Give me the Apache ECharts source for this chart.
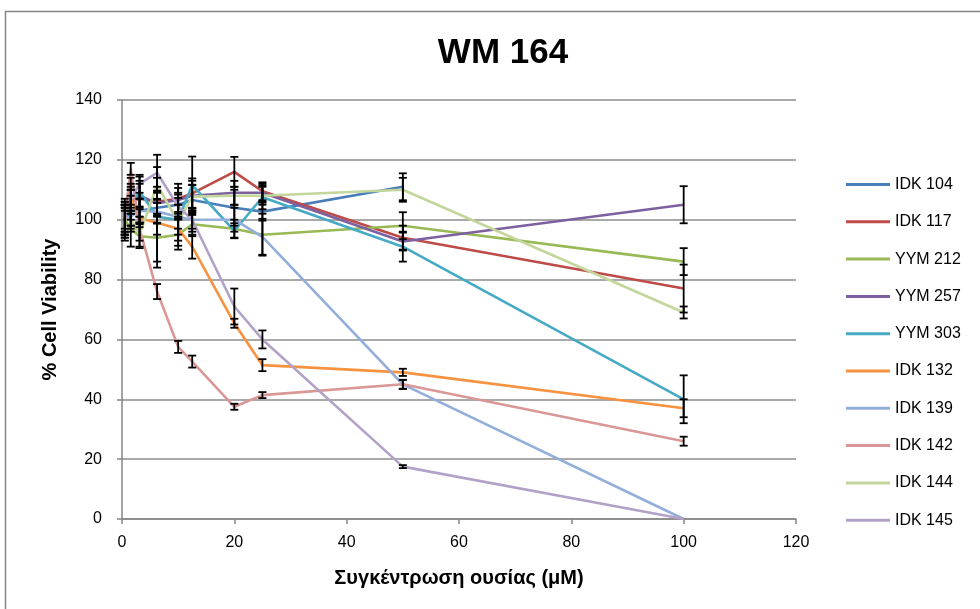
<!DOCTYPE html>
<html><head><meta charset="utf-8">
<script src="https://cdn.jsdelivr.net/npm/echarts@6/dist/echarts.min.js"></script>
<style>html,body{margin:0;padding:0;background:#fff}#c{width:980px;height:609px}</style>
</head><body><div id="c"></div>
<script>
const concentrations = [0.5, 1.56, 3.125, 6.25, 10, 12.5, 20, 25, 50, 100];
const seriesNames = ['IDK 104','IDK 117','YYM 212','YYM 257','YYM 303','IDK 132','IDK 139','IDK 142','IDK 144','IDK 145'];
const idk104 = [100, 103, 103, 104, 105, 106.6, 104, 102.7, 111, null];
const idk117 = [100, 106, 107, 106, 107, 108.8, 116, 109.5, 94, 77];
const yym212 = [100, 97, 94.5, 94, 95, 98.5, 97, 95, 98, 86];
const yym257 = [100, 106, 108, 105.5, 106.6, 108, 109, 109, 92.7, 105];
const yym303 = [100, 105, 109.4, 101, 100, 111.6, 96.3, 107.5, 91, 40];
const idk132 = [100, 107, 100.5, 99, 97, 91, 65.4, 51.4, 49, 37];
const idk139 = [100, 101, 103, 102.7, 101, 100, 100, 94.3, 45, 0];
const idk142 = [100, 117, 97, 76, 57.5, 52.6, 37.5, 41.4, 45, 26];
const idk144 = [100, 100, 95, 111.6, 99.3, 107.7, 108, 108, 110, 69];
const idk145 = [100, 107, 112, 115.7, 104.4, 100, 71, 60, 17.5, 0];
const err104 = [6, 5, 4, 5, 4, 5, 6, 3, 4.5, null];
const err117 = [7, 8, 6, 5, 5, 5, 5, 3, 4, 8];
const err212 = [5, 6, 4, 8, 5, 4, 3, 7, 4.5, 4.5];
const err257 = [5, 4, 4, 4, 4, 5, 4, 3, 3, 6.2];
const err303 = [6, 5, 5, 6, 5, 9.5, 2.5, 4, 5, 8];
const err132 = [5, 4, 3, 15, 4, 4, 1.5, 2, 1.2, 3];
const err139 = [5, 4, 4, 4, 4, 4, 4, 6, 1.5, 0];
const err142 = [3, 2, 4, 2.5, 2, 2, 1, 1, 1.5, 1.5];
const err144 = [4, 4, 4, 6, 8, 4, 3, 3, 4, 2];
const err145 = [4, 5, 3, 6, 4, 3, 6, 3, 0.5, 0];
const xTicks = [0, 20, 40, 60, 80, 100, 120];
const yTicks = [0, 20, 40, 60, 80, 100, 120, 140];

const values = [idk104, idk117, yym212, yym257, yym303, idk132, idk139, idk142, idk144, idk145];
const errors = [err104, err117, err212, err257, err303, err132, err139, err142, err144, err145];
const colors = ['#4A7EBB','#BE4B48','#98B954','#7D60A0','#46AAC5','#F69240','#92AEDA','#D99795','#C3D69B','#B3A2C7'];

const series = [];
values.forEach((vals, i) => {
  const data = [];
  concentrations.forEach((x, j) => { if (vals[j] != null) data.push([x, vals[j]]); });
  series.push({
    name: seriesNames[i], type: 'line', data: data, smooth: false,
    symbol: 'none', lineStyle: {width: 2.6, color: colors[i]}, itemStyle: {color: colors[i]}, z: 2
  });
});
values.forEach((vals, i) => {
  const data = [];
  concentrations.forEach((x, j) => { if (vals[j] != null && errors[i][j]) data.push([x, vals[j], errors[i][j]]); });
  series.push({
    name: 'err ' + seriesNames[i], type: 'custom', z: 3, silent: true,
    data: data, encode: {x: 0, y: 1},
    renderItem: function (params, api) {
      const x = api.value(0), y = api.value(1), e = api.value(2);
      const top = api.coord([x, y + e]);
      const bot = api.coord([x, Math.max(0, y - e)]);
      const w = 4;
      const st = {stroke: '#000', lineWidth: 1.8};
      return {type: 'group', children: [
        {type: 'line', shape: {x1: top[0], y1: top[1], x2: bot[0], y2: bot[1]}, style: st},
        {type: 'line', shape: {x1: top[0]-w, y1: top[1], x2: top[0]+w, y2: top[1]}, style: st},
        {type: 'line', shape: {x1: bot[0]-w, y1: bot[1], x2: bot[0]+w, y2: bot[1]}, style: st}
      ]};
    }
  });
});

const chart = echarts.init(document.getElementById('c'), null, {renderer: 'canvas'});
chart.setOption({
  animation: false,
  backgroundColor: '#fff',
  title: {text: 'WM 164', left: 498, top: 31, textAlign: 'center',
    textStyle: {fontFamily: 'Liberation Sans', fontWeight: 'bold', fontSize: 35, color: '#000'}},
  graphic: [{type: 'rect', shape: {x: 5.5, y: 11.5, width: 1000, height: 1000},
    style: {fill: 'none', stroke: '#868686', lineWidth: 1.5}, silent: true}],
  grid: {left: 122, right: 184, top: 100, bottom: 90},
  legend: {
    data: seriesNames, orient: 'vertical', left: 841, top: 171,
    icon: 'rect', itemWidth: 44, itemHeight: 3, itemGap: 20.3,
    textStyle: {fontFamily: 'Liberation Sans', fontSize: 16, color: '#000', lineHeight: 17}
  },
  xAxis: {
    type: 'value', min: 0, max: 120, interval: 20,
    name: 'Συγκέντρωση ουσίας (μM)', nameLocation: 'middle', nameGap: 49,
    nameTextStyle: {fontFamily: 'Liberation Sans', fontWeight: 'bold', fontSize: 20, color: '#000'},
    axisLine: {lineStyle: {color: '#868686', width: 1.5}},
    axisTick: {show: true, length: 5, lineStyle: {color: '#868686', width: 1.5}},
    axisLabel: {fontFamily: 'Liberation Sans', fontSize: 16, color: '#000', margin: 16,
      formatter: v => xTicks.includes(v) ? String(v) : ''},
    splitLine: {show: false}
  },
  yAxis: {
    type: 'value', min: 0, max: 140, interval: 20,
    name: '% Cell Viability', nameLocation: 'middle', nameGap: 62, nameRotate: 90,
    nameTextStyle: {fontFamily: 'Liberation Sans', fontWeight: 'bold', fontSize: 20, color: '#000'},
    axisLine: {show: true, lineStyle: {color: '#868686', width: 1.5}},
    axisTick: {show: true, length: 5, lineStyle: {color: '#868686', width: 1.5}},
    axisLabel: {fontFamily: 'Liberation Sans', fontSize: 16, color: '#000', margin: 20,
      formatter: v => yTicks.includes(v) ? String(v) : ''},
    splitLine: {show: true, lineStyle: {color: '#8c8c8c', width: 1.5}}
  },
  series: series
});
</script></body></html>
